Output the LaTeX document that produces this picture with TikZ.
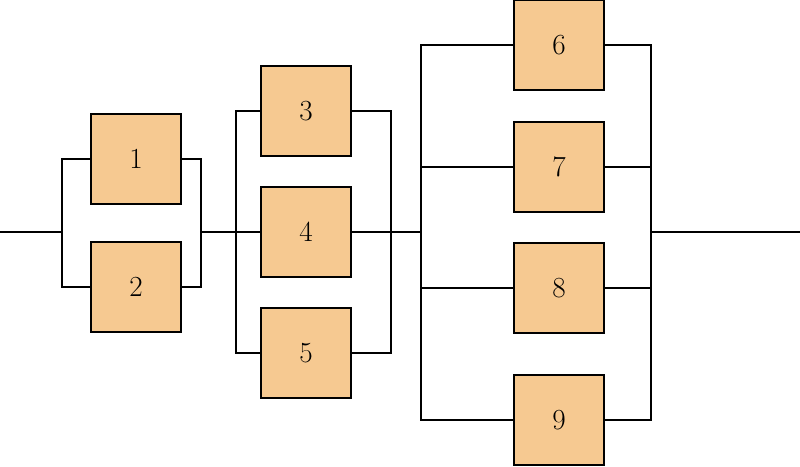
\documentclass[tikz,border=0pt]{standalone}
\usepackage{tikz}
\usetikzlibrary{positioning, calc}
\definecolor{blockfill}{RGB}{246,201,145}
\tikzset{
  block/.style={rectangle, minimum width=2.25cm, minimum height=2.25cm, inner sep=0pt, draw=black, line width=0.8pt, fill=blockfill, font=\huge},
  wire/.style={line width=1.3pt}
}

\begin{document}
\begin{tikzpicture}[x=0.025cm, y=-0.025cm]
    \useasboundingbox (0,0) rectangle (800,466);

    % Bloques
    \foreach \n/\px/\py in {1/136/159, 2/136/287, 3/306/111, 4/306/232, 5/306/353,
                            6/559/45, 7/559/167, 8/559/288, 9/559/420} {
        \node[block] (b\n) at (\px,\py) {\n};
    }

    % Nudos de la linea principal
    \coordinate (in) at (0,232);
    \coordinate (l1) at (62,232);
    \coordinate (r1) at (201,232);
    \coordinate (l2) at (236,232);
    \coordinate (r2) at (391,232);
    \coordinate (l3) at (421,232);
    \coordinate (r3) at (651,232);
    \coordinate (out) at (800,232);

    % Linea principal
    \draw[wire] (in) -- (l1);
    \draw[wire] (r1) -- (l2);
    \draw[wire] (r2) -- (l3);
    \draw[wire] (r3) -- (out);

    % Grupo 1
    \foreach \n in {1,2} {
        \draw[wire] (l1) |- (b\n.west);
        \draw[wire] (b\n.east) -| (r1);
    }

    % Grupo 2
    \foreach \n in {3,4,5} {
        \draw[wire] (l2) |- (b\n.west);
        \draw[wire] (b\n.east) -| (r2);
    }

    % Grupo 3
    \foreach \n in {6,7,8,9} {
        \draw[wire] (l3) |- (b\n.west);
        \draw[wire] (b\n.east) -| (r3);
    }

\end{tikzpicture}
\end{document}
